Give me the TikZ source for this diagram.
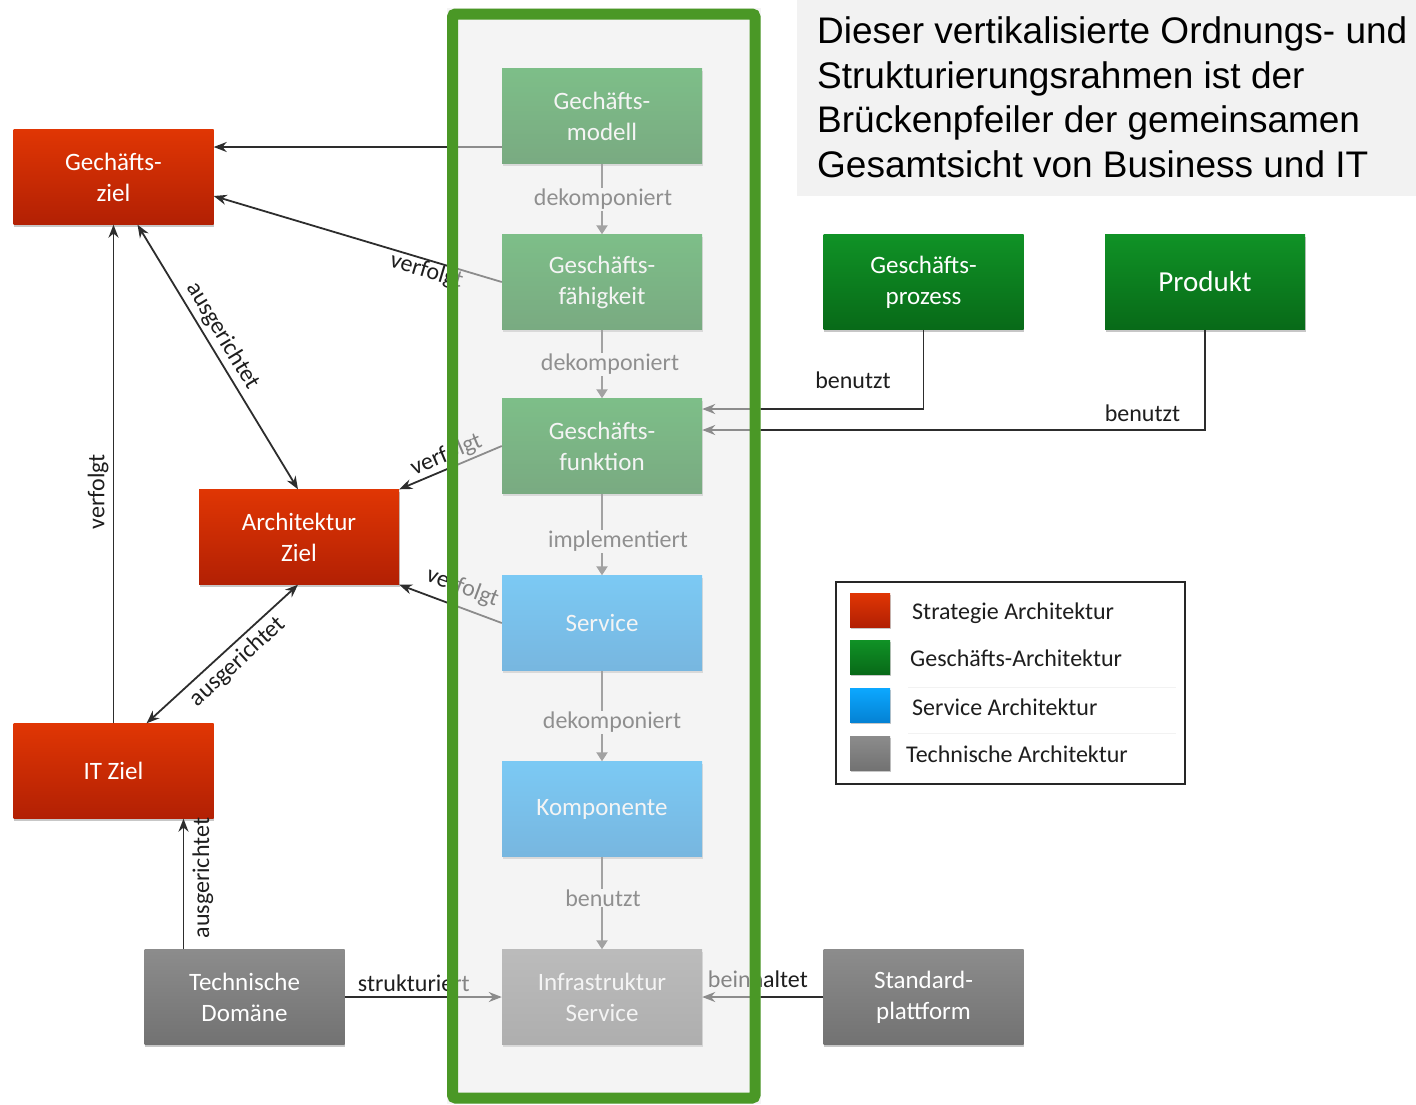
\documentclass[tikz,border=0pt]{standalone}
\usepackage{fontspec}
\setmainfont{Carlito}
\newfontfamily\arialfont{Liberation Sans}
\usetikzlibrary{arrows.meta,shadows}
\definecolor{redT}{RGB}{224,54,4}
\definecolor{redB}{RGB}{178,32,4}
\definecolor{grnT}{RGB}{16,146,38}
\definecolor{grnB}{RGB}{8,106,24}
\definecolor{bluT}{RGB}{12,168,255}
\definecolor{bluB}{RGB}{4,130,212}
\definecolor{gryT}{RGB}{140,140,140}
\definecolor{gryB}{RGB}{114,114,114}
\definecolor{colgreen}{RGB}{74,152,38}
\definecolor{lineC}{RGB}{45,45,45}
\definecolor{veil}{RGB}{235,235,235}
\definecolor{noteBg}{RGB}{242,242,242}
\definecolor{lblC}{RGB}{30,30,30}
\begin{document}
\begin{tikzpicture}[x=1pt,y=-1pt,
  box/.style={minimum width=200pt,minimum height=95pt,inner sep=0pt,align=center,
    text=white,font=\fontsize{25}{31}\selectfont,
    drop shadow={shadow xshift=0.5pt,shadow yshift=-2.5pt,opacity=0.22,fill=black}},
  redbox/.style={box,top color=redT,bottom color=redB},
  grnbox/.style={box,top color=grnT,bottom color=grnB},
  blubox/.style={box,top color=bluT,bottom color=bluB},
  grybox/.style={box,top color=gryT,bottom color=gryB},
  swatch/.style={minimum width=40pt,minimum height=34pt,inner sep=0pt,
    drop shadow={shadow xshift=0.5pt,shadow yshift=-2pt,opacity=0.22,fill=black}},
  conn/.style={draw=lineC,line width=1.8pt,-{Stealth[length=13pt,width=10pt]}},
  bconn/.style={draw=lineC,line width=1.8pt,{Stealth[length=13pt,width=10pt]}-{Stealth[length=13pt,width=10pt]}},
  inconn/.style={draw=black!65,line width=2.4pt,-{Triangle[length=9pt,width=11pt]}},
  lbl/.style={text=lblC,font=\fontsize{24}{28}\selectfont,inner sep=1pt},
  inlbl/.style={text=black!80,font=\fontsize{24}{28}\selectfont,fill=white,inner sep=1pt},
  legtxt/.style={text=lblC,font=\fontsize{24}{28}\selectfont,inner sep=0pt,anchor=mid west},
  notetxt/.style={anchor=base west,inner sep=0pt,text=black,font=\arialfont\fontsize{37}{44}\selectfont}
]
\fill[white] (0,0) rectangle (1416,1104);
\useasboundingbox (0,0) rectangle (1416,1104);

% note panel
\fill[noteBg] (797,0) rectangle (1416,196);
\node[notetxt] (n1) at (817,43) {Dieser vertikalisierte Ordnungs- und};
\node[notetxt] (n2) at (817,88) {Strukturierungsrahmen ist der};
\node[notetxt] (n3) at (817,132) {Brückenpfeiler der gemeinsamen};
\node[notetxt] (n4) at (817,177) {Gesamtsicht von Business und IT};

% column boxes
\node[grnbox] (gm) at (602,116) {Gechäfts-\\modell};
\node[grnbox] (gf) at (602,282) {Geschäfts-\\fähigkeit};
\node[grnbox] (gfn) at (602,446) {Geschäfts-\\funktion};
\node[blubox] (svc) at (602,623) {Service};
\node[blubox] (komp) at (602,809) {Komponente};
\node[grybox] (infra) at (602,997) {Infrastruktur\\Service};

% left boxes
\node[redbox] (gz) at (113.5,177) {Gechäfts-\\ziel};
\node[redbox] (az) at (299,537) {Architektur\\Ziel};
\node[redbox] (itz) at (113.5,771) {IT Ziel};
\node[grybox] (td) at (244.5,997) {Technische\\Domäne};

% right boxes
\node[grnbox] (gp) at (923.5,282) {Geschäfts-\\prozess};
\node[grnbox,font=\fontsize{29}{34}\selectfont] (prod) at (1205,282) {Produkt};
\node[grybox] (sp) at (923.5,997) {Standard-\\plattform};

% connectors
\draw[conn] ([yshift=-31pt]gm.west) coordinate (c1) -- (gz.east |- c1);
\draw[conn] (gf.west) -- ([yshift=-19pt]gz.east)
  node[lbl,pos=0.25,sloped,below=-1pt] {verfolgt};
\draw[bconn] ([xshift=24pt]gz.south) -- ([xshift=-1pt]az.north)
  node[lbl,pos=0.45,sloped,above=3pt] {ausgerichtet};
\draw[conn] (itz.north) -- (gz.south)
  node[lbl,pos=0.464,sloped,above=3pt] {verfolgt};
\draw[bconn] ([xshift=-1pt]az.south) -- ([xshift=33pt]itz.north)
  node[lbl,pos=0.47,sloped,below=4pt] {ausgerichtet};
\draw[conn] (gfn.west) -- (az.north east)
  node[lbl,pos=0.49,sloped,above=1pt] {verfolgt};
\draw[conn] (svc.west) -- (az.south east)
  node[lbl,pos=0.45,sloped,above=7pt] {verfolgt};
\draw[conn] (gp.south) |- ([yshift=37pt]gfn.east)
  node[lbl,pos=0.32,anchor=east,xshift=-31pt] {benutzt};
\draw[conn] (prod.south) |- ([yshift=16pt]gfn.east)
  node[lbl,pos=0.415,anchor=east,xshift=-23pt] {benutzt};
\draw[conn] ([xshift=-61pt]td.north) coordinate (c11) -- (c11 |- itz.south)
  node[lbl,pos=0.545,sloped,below=7pt] {ausgerichtet};
\draw[conn] (td.east) -- (infra.west)
  node[lbl,pos=0.44,above=3pt] {strukturiert};
\draw[conn] (sp.west) -- (infra.east)
  node[lbl,pos=0.54,above=7pt] {beinhaltet};

% column connectors
\draw[inconn] (gm.south) -- (gf.north)
  node[inlbl,pos=0.5,xshift=1pt,yshift=-0.5pt] {dekomponiert};
\draw[inconn] (gf.south) -- (gfn.north)
  node[inlbl,pos=0.5,xshift=8pt,yshift=-0.5pt] {dekomponiert};
\draw[inconn] (gfn.south) -- (svc.north)
  node[inlbl,pos=0.5,xshift=16pt,yshift=-7pt] {implementiert};
\draw[inconn] (svc.south) -- (komp.north)
  node[inlbl,pos=0.5,xshift=10pt,yshift=-6.5pt] {dekomponiert};
\draw[inconn] (komp.south) -- (infra.north)
  node[inlbl,pos=0.5,xshift=1pt,yshift=5pt] {benutzt};

% column veil and frame
\fill[veil,fill opacity=0.5] (447,8) rectangle (761,1104);
\draw[colgreen,line width=11pt,rounded corners=3pt] (452.5,14) rectangle (755,1098);

% legend
\draw[black!85,line width=2pt] (836,582) rectangle (1185,784);
\draw[black!5,line width=1pt] (908,687) -- (1176,687);
\draw[black!5,line width=1pt] (908,733) -- (1176,733);
\node[swatch,top color=redT,bottom color=redB] (sw1) at (870,610) {};
\node[swatch,top color=grnT,bottom color=grnB] (sw2) at (870,657) {};
\node[swatch,top color=bluT,bottom color=bluB] (sw3) at (870,705) {};
\node[swatch,top color=gryT,bottom color=gryB] (sw4) at (870,753) {};
\node[legtxt] (l1) at (912,617) {Strategie Architektur};
\node[legtxt] (l2) at (910,664) {Geschäfts-Architektur};
\node[legtxt] (l3) at (912,713) {Service Architektur};
\node[legtxt] (l4) at (906,760) {Technische Architektur};
\end{tikzpicture}
\end{document}
